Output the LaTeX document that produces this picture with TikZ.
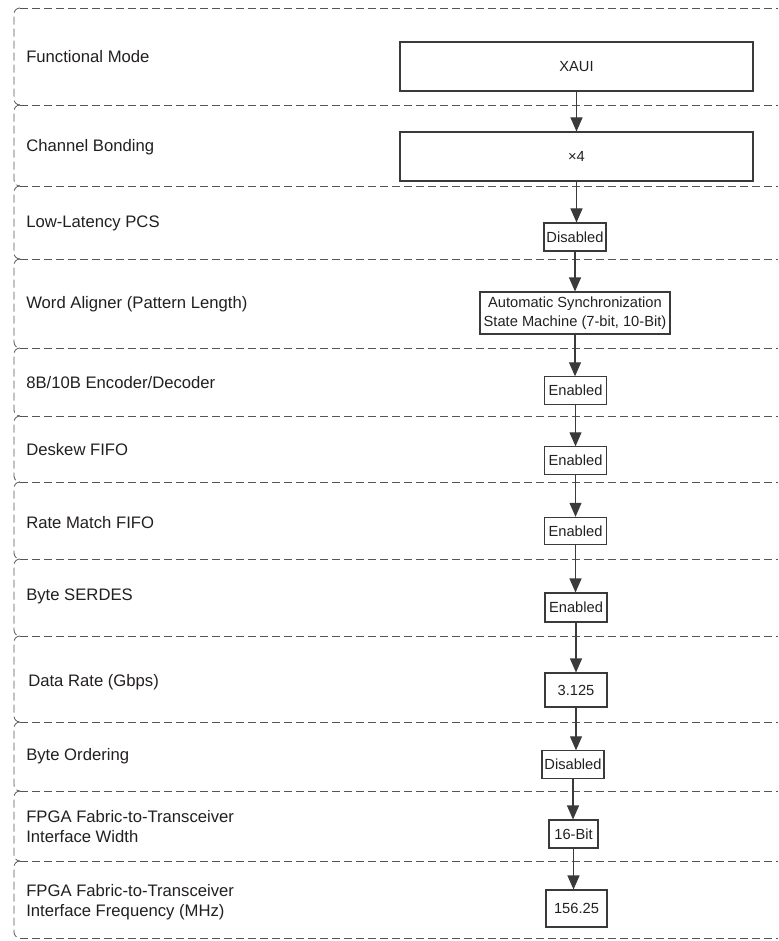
\documentclass[tikz,border=0pt]{standalone}
\usepackage{fontspec}
\setmainfont{Liberation Sans}
\usetikzlibrary{arrows.meta, positioning}
\definecolor{ink}{HTML}{231F20}
\definecolor{rulegray}{HTML}{555555}
\definecolor{boxline}{HTML}{3A3A3A}

\tikzset{
  rowlabel/.style={anchor=west, align=left, inner sep=0pt, text=ink,
    font=\fontsize{12.5}{15}\selectfont},
  setting/.style={draw=boxline, line width=0.8pt, inner sep=0pt, text=ink,
    align=center, font=\fontsize{11}{14.25}\selectfont},
  smallset/.style={setting, minimum width=46.5pt, minimum height=20.5pt},
  flow/.style={draw=boxline, line width=0.8pt, -{Triangle[length=10.5pt,width=9pt]}},
  band/.style={draw=rulegray, line width=0.6pt, dash pattern=on 6pt off 3pt},
}

\begin{document}
\begin{tikzpicture}[x=0.75pt, y=-0.75pt]
  \useasboundingbox (0,0) rectangle (778,941);
  % Bands
  \foreach \t/\b in {8/105, 105/186, 186/259, 259/348, 348/416, 416/482,
                     482/559, 559/636, 636/722, 722/791, 791/861, 861/938}
    \draw[band, rounded corners=4.5pt] (20,\t) -- (14,\t) -- (14,\b) -- (20,\b);
  \foreach \y in {8, 105, 186, 259, 348, 416, 482, 559, 636, 722, 791, 861, 938}
    \draw[band] (20,\y) -- (778,\y);
  % Row labels
  \node[rowlabel] (lmode)  at (26,57)  {Functional Mode};
  \node[rowlabel] (lbond)  at (26,147) {Channel Bonding};
  \node[rowlabel] (lpcs)   at (26,223) {Low-Latency PCS};
  \node[rowlabel] (lalign) at (26,304) {Word Aligner (Pattern Length)};
  \node[rowlabel] (lcode)  at (26,383) {8B/10B Encoder/Decoder};
  \node[rowlabel] (ldesk)  at (26,450) {Deskew FIFO};
  \node[rowlabel] (lrate)  at (26,523) {Rate Match FIFO};
  \node[rowlabel] (lserd)  at (26,596) {Byte SERDES};
  \node[rowlabel] (ldata)  at (28,682) {Data Rate (Gbps)};
  \node[rowlabel] (lorder) at (26,756) {Byte Ordering};
  \node[rowlabel] (lwidth) at (26,827) {FPGA Fabric-to-Transceiver\\Interface Width};
  \node[rowlabel] (lfreq)  at (26,902) {FPGA Fabric-to-Transceiver\\Interface Frequency (MHz)};
  % Settings
  \node[setting, minimum width=264.75pt, minimum height=36.75pt] (mode) at (576.5,66.5) {XAUI};
  \node[setting, minimum width=264.75pt, minimum height=36.75pt] (bond) at (576.5,156.5) {×4};
  \node[smallset, minimum height=21pt] (pcs) at (575,237) {Disabled};
  \node[setting, minimum width=142.5pt, minimum height=31.5pt] (align) at (575,313)
    {Automatic Synchronization\\State Machine (7-bit, 10-Bit)};
  \node[smallset] (code) at (575.5,390.5) {Enabled};
  \node[smallset] (desk) at (575.5,460.5) {Enabled};
  \node[smallset] (rate) at (575.5,531) {Enabled};
  \node[smallset, minimum height=21.75pt] (serd) at (576,607.5) {Enabled};
  \node[smallset, minimum height=25.5pt] (data) at (576,690) {3.125};
  \node[smallset] (order) at (573,764.5) {Disabled};
  \node[setting, minimum width=36.75pt, minimum height=21pt] (width) at (573.5,834) {16-Bit};
  \node[setting, minimum width=45.75pt, minimum height=27.75pt] (freq) at (576.5,908.5) {156.25};
  % Flow
  \draw[flow] (mode.south) -- (mode.south |- bond.north);
  \draw[flow] (bond.south) -- (bond.south |- pcs.north);
  \draw[flow] (pcs.south) -- (pcs.south |- align.north);
  \draw[flow] (align.south) -- (align.south |- code.north);
  \draw[flow] (code.south) -- (code.south |- desk.north);
  \draw[flow] (desk.south) -- (desk.south |- rate.north);
  \draw[flow] (rate.south) -- (rate.south |- serd.north);
  \draw[flow] (serd.south) -- (serd.south |- data.north);
  \draw[flow] (data.south) -- (data.south |- order.north);
  \draw[flow] (order.south) -- (order.south |- width.north);
  \draw[flow] (width.south) -- (width.south |- freq.north);
\end{tikzpicture}
\end{document}
